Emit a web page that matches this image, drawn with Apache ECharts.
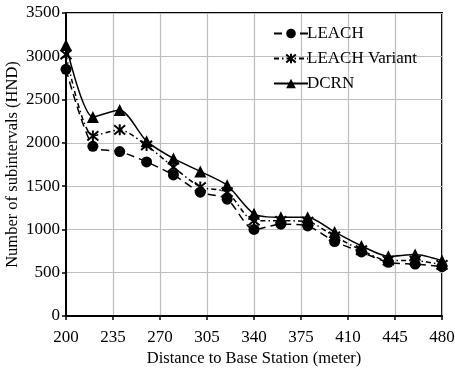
<!DOCTYPE html>
<html>
<head>
<meta charset="utf-8">
<script src="https://cdn.jsdelivr.net/npm/echarts@6/dist/echarts.min.js"></script>
<style>
html, body { margin: 0; padding: 0; background: #fff; }
#chartDom { width: 455px; height: 370px; }
</style>
</head>
<body>
<div id="chartDom"></div>
<script>
// distance to base station (meter)
const distances = [200, 220, 240, 260, 280, 300, 320, 340, 360, 380, 400, 420, 440, 460, 480]
const leach = [2850, 1960, 1900, 1780, 1630, 1430, 1350, 1000, 1060, 1040, 860, 740, 620, 600, 570]
const leachVariant = [3020, 2080, 2150, 1970, 1720, 1490, 1430, 1100, 1100, 1090, 920, 760, 640, 640, 590]
const dcrn = [3130, 2300, 2380, 2020, 1820, 1670, 1510, 1180, 1140, 1140, 970, 810, 690, 710, 640]
const xStart = 200
const xStep = 35
const yTicks = [0, 500, 1000, 1500, 2000, 2500, 3000, 3500]

const font = '"Liberation Serif", "Times New Roman", serif'
// X plus vertical bar, like the excel star marker
const starPath = 'path://M0,0L10,10M10,0L0,10M5,-1L5,11'

// the axis is shifted by xStart so ticks land on 200, 235, ... 480
function pts (arr) {
  return arr.map((v, i) => [distances[i] - xStart, v])
}

const chart = echarts.init(document.getElementById('chartDom'))
const option = {
  animation: false,
  textStyle: { fontFamily: font, color: '#000' },
  grid: {
    left: 66,
    right: 13,
    top: 13,
    bottom: 54,
    outerBoundsMode: 'none',
    containLabel: false,
    show: true,
    borderColor: '#000',
    borderWidth: 2
  },
  legend: {
    orient: 'vertical',
    left: 268,
    top: 20,
    itemWidth: 34,
    itemHeight: 12,
    itemGap: 8,
    textStyle: { fontFamily: font, fontSize: 17, color: '#000', padding: [0, 0, 0, -6] },
    data: ['LEACH', 'LEACH Variant', 'DCRN']
  },
  xAxis: {
    type: 'value',
    min: 0,
    max: distances[distances.length - 1] - xStart,
    interval: xStep,
    name: 'Distance to Base Station (meter)',
    nameLocation: 'middle',
    nameGap: 34,
    nameMoveOverlap: false,
    nameTextStyle: { fontFamily: font, fontSize: 16.5, color: '#000' },
    axisLine: { lineStyle: { color: '#000', width: 2 } },
    axisTick: { show: true, length: 4, lineStyle: { color: '#000', width: 1.5 } },
    axisLabel: {
      fontFamily: font, fontSize: 17, color: '#000', margin: 13,
      formatter: v => String(v + xStart)
    },
    splitLine: { show: true, lineStyle: { color: '#bdbdbd', width: 1.2 } }
  },
  yAxis: {
    type: 'value',
    min: yTicks[0],
    max: yTicks[yTicks.length - 1],
    interval: yTicks[1] - yTicks[0],
    name: 'Number of subintervals (HND)',
    nameLocation: 'middle',
    nameGap: 45,
    nameMoveOverlap: false,
    nameTextStyle: { fontFamily: font, fontSize: 16.5, color: '#000' },
    axisLine: { show: true, lineStyle: { color: '#000', width: 2 } },
    axisTick: { show: true, length: 4, lineStyle: { color: '#000', width: 1.5 } },
    axisLabel: { fontFamily: font, fontSize: 17, color: '#000', margin: 6, formatter: v => String(v) },
    splitLine: { show: true, lineStyle: { color: '#bdbdbd', width: 1.2 } }
  },
  series: [
    {
      name: 'LEACH',
      type: 'line',
      smooth: 0.25,
      data: pts(leach),
      symbol: 'circle',
      symbolSize: 11,
      itemStyle: { color: '#000' },
      lineStyle: { color: '#000', width: 1.5, type: [8, 5] },
      z: 3
    },
    {
      name: 'LEACH Variant',
      type: 'line',
      smooth: 0.25,
      data: pts(leachVariant),
      symbol: starPath,
      symbolSize: 11,
      itemStyle: { color: 'none', borderColor: '#000', borderWidth: 2 },
      lineStyle: { color: '#000', width: 1.5, type: [5, 3, 1.5, 3] },
      z: 4
    },
    {
      name: 'DCRN',
      type: 'line',
      smooth: 0.25,
      data: pts(dcrn),
      symbol: 'triangle',
      symbolSize: 12,
      itemStyle: { color: '#000' },
      lineStyle: { color: '#000', width: 1.5 },
      z: 5
    }
  ]
}
chart.setOption(option)
</script>
</body>
</html>
